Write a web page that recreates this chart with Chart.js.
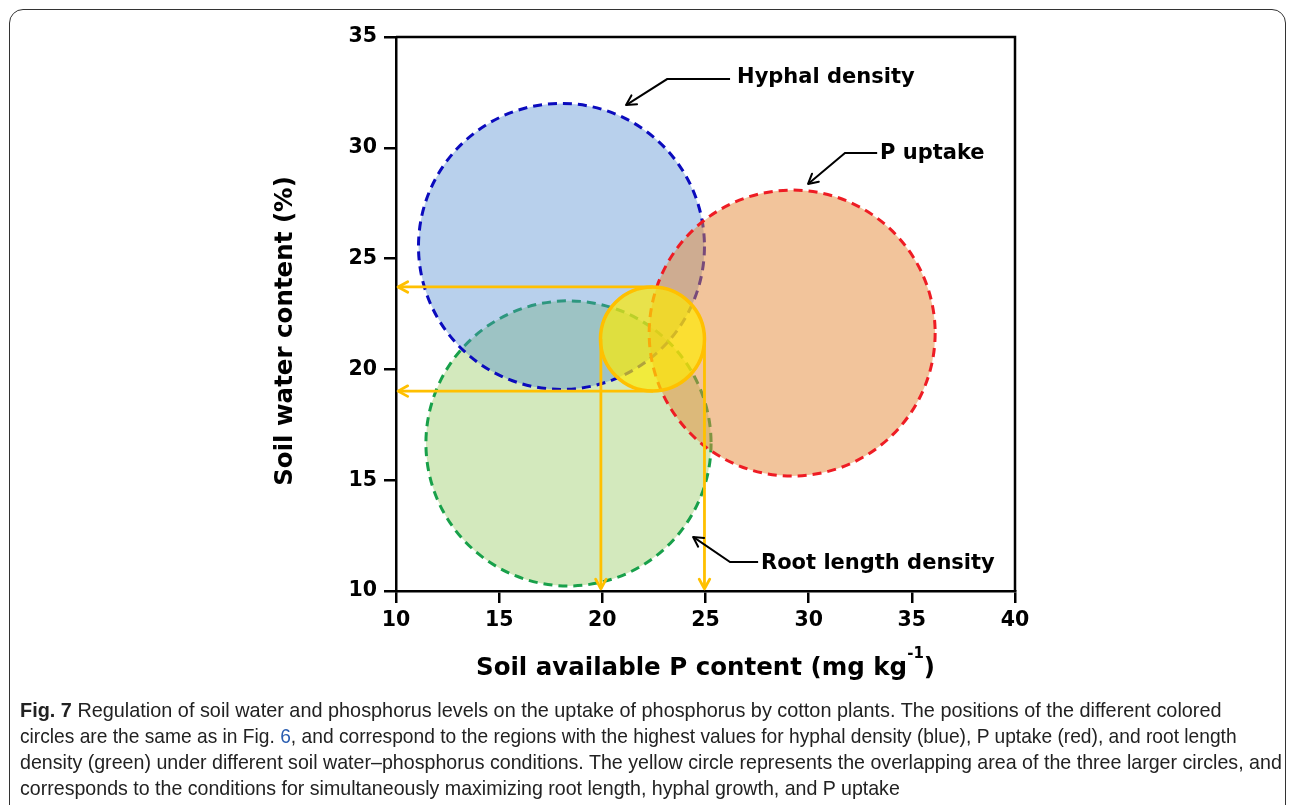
<!DOCTYPE html>
<html><head><meta charset="utf-8">
<script src="https://cdn.jsdelivr.net/npm/chart.js@4/dist/chart.umd.min.js"></script>
<style>
html,body{margin:0;padding:0;background:#fff;}
#wrap{position:relative;width:1292px;height:805px;overflow:hidden;}
#frame{position:absolute;left:9px;top:9px;width:1277px;height:900px;border:1.5px solid #333;border-radius:14px;box-sizing:border-box;}
#box{position:absolute;left:0;top:0;width:1292px;height:805px;}
.cap{position:absolute;left:20px;white-space:nowrap;font-family:"Liberation Sans Narrow","Liberation Sans",Arial,sans-serif;font-size:21px;line-height:24px;color:#222;transform-origin:0 50%;}
.cap b{font-weight:bold;}
.cap .lnk{color:#2a5db0;}
</style></head>
<body>
<div id="wrap">
<div id="frame"></div>
<div id="box"><canvas id="cv"></canvas></div>
<div class="cap" data-w="1202" style="top:698px"><b>Fig. 7</b> Regulation of soil water and phosphorus levels on the uptake of phosphorus by cotton plants. The positions of the different colored</div>
<div class="cap" data-w="1217" style="top:724px">circles are the same as in Fig. <span class="lnk">6</span>, and correspond to the regions with the highest values for hyphal density (blue), P uptake (red), and root length</div>
<div class="cap" data-w="1262" style="top:750px">density (green) under different soil water–phosphorus conditions. The yellow circle represents the overlapping area of the three larger circles, and</div>
<div class="cap" data-w="880" style="top:776px">corresponds to the conditions for simultaneously maximizing root length, hyphal growth, and P uptake</div>
</div>
<script>
// ---- data ----
const xTicks = [10, 15, 20, 25, 30, 35, 40];
const yTicks = [10, 15, 20, 25, 30, 35];
const circleNames = ['Root length density', 'Hyphal density', 'P uptake', 'Overlap'];
const circleX = [18.36, 18.02, 29.2, 22.43];
const circleY = [16.66, 25.55, 21.64, 21.37];
const circleR = [6.91, 6.93, 6.93, 2.52];   // radius in x-axis units
const guideLevelY = [23.72, 19.02];          // horizontal guides to y axis
const guideStartX = 22.45;
const guideDropX = [19.93, 24.95];           // vertical guides to x axis
const guideDropStartY = 21.37;
const axisEndX = 10.1;
const axisEndY = 10.1;
const labelText = ['Hyphal density', 'P uptake', 'Root length density'];
const labelX = [26.53, 33.46, 27.69];
const labelY = [33.15, 29.72, 11.26];
const leaderStartX = [26.19, 33.32, 27.55];
const leaderBendX = [23.14, 31.76, 26.19];
const leaderY = [33.1, 29.77, 11.31];
const leaderTipX = [21.15, 29.97, 24.40];
const leaderTipY = [31.93, 28.37, 12.44];

// ---- styles ----
const circleFill = ['rgb(211,233,189)', 'rgba(78,138,208,0.4)', 'rgba(229,137,55,0.5)', 'rgba(255,236,0,0.68)'];
const circleStroke = ['#18a04a', '#0b0bbd', '#ee1c24', '#ffc000'];
const circleDash = [[9, 6], [9, 6], [9, 6], []];
const circleLW = [3, 3, 3, 3.5];
const guideColor = '#ffc000';
const boldFont = '"DejaVu Sans", "Liberation Sans", sans-serif';

function arrowHead(ctx, fx, fy, tx, ty, size, color, lw) {
  const a = Math.atan2(ty - fy, tx - fx);
  ctx.save();
  ctx.strokeStyle = color; ctx.lineWidth = lw; ctx.setLineDash([]);
  ctx.lineCap = 'round'; ctx.lineJoin = 'round';
  ctx.beginPath();
  ctx.moveTo(tx - size * Math.cos(a - 0.5), ty - size * Math.sin(a - 0.5));
  ctx.lineTo(tx, ty);
  ctx.lineTo(tx - size * Math.cos(a + 0.5), ty - size * Math.sin(a + 0.5));
  ctx.stroke();
  ctx.restore();
}

const datasets = [];
guideLevelY.forEach(y => datasets.push({
  data: [{x: guideStartX, y: y}, {x: axisEndX, y: y}],
  showLine: true, borderColor: guideColor, borderWidth: 2.8, pointRadius: 0, fill: false
}));
guideDropX.forEach(x => datasets.push({
  data: [{x: x, y: guideDropStartY}, {x: x, y: axisEndY}],
  showLine: true, borderColor: guideColor, borderWidth: 2.8, pointRadius: 0, fill: false
}));

const drawPlugin = {
  id: 'draw',
  beforeDatasetsDraw(chart) {
    const ctx = chart.ctx, xs = chart.scales.x, ys = chart.scales.y;
    ctx.save();
    for (let i = 0; i < circleX.length; i++) {
      const cx = xs.getPixelForValue(circleX[i]);
      const cy = ys.getPixelForValue(circleY[i]);
      const r = xs.getPixelForValue(circleX[i] + circleR[i]) - cx;
      ctx.beginPath();
      ctx.arc(cx, cy, r, 0, Math.PI * 2);
      ctx.fillStyle = circleFill[i];
      ctx.fill();
      ctx.setLineDash(circleDash[i]);
      ctx.lineWidth = circleLW[i];
      ctx.strokeStyle = circleStroke[i];
      ctx.stroke();
    }
    ctx.restore();
  },
  afterDatasetsDraw(chart) {
    const ctx = chart.ctx, xs = chart.scales.x, ys = chart.scales.y;
    guideLevelY.forEach(y => {
      arrowHead(ctx, xs.getPixelForValue(guideStartX), ys.getPixelForValue(y),
        xs.getPixelForValue(axisEndX), ys.getPixelForValue(y), 11, guideColor, 2.8);
    });
    guideDropX.forEach(x => {
      arrowHead(ctx, xs.getPixelForValue(x), ys.getPixelForValue(guideDropStartY),
        xs.getPixelForValue(x), ys.getPixelForValue(axisEndY), 11, guideColor, 2.8);
    });
    const a = chart.chartArea;
    ctx.save();
    ctx.strokeStyle = '#000'; ctx.lineWidth = 2.5;
    ctx.beginPath();
    ctx.moveTo(a.left, a.top); ctx.lineTo(a.right, a.top); ctx.lineTo(a.right, a.bottom);
    ctx.stroke();
    for (let i = 0; i < labelText.length; i++) {
      const sx = xs.getPixelForValue(leaderStartX[i]);
      const bx = xs.getPixelForValue(leaderBendX[i]);
      const ly = ys.getPixelForValue(leaderY[i]);
      const tx = xs.getPixelForValue(leaderTipX[i]);
      const ty = ys.getPixelForValue(leaderTipY[i]);
      ctx.strokeStyle = '#000'; ctx.lineWidth = 2; ctx.setLineDash([]);
      ctx.beginPath(); ctx.moveTo(sx, ly); ctx.lineTo(bx, ly); ctx.lineTo(tx, ty); ctx.stroke();
      arrowHead(ctx, bx, ly, tx, ty, 11, '#000', 2);
      ctx.fillStyle = '#000';
      ctx.font = 'bold 21px ' + boldFont;
      ctx.textAlign = 'left'; ctx.textBaseline = 'middle';
      ctx.fillText(labelText[i], xs.getPixelForValue(labelX[i]), ys.getPixelForValue(labelY[i]));
    }
    ctx.restore();
  },
  afterDraw(chart) {
    const ctx = chart.ctx, a = chart.chartArea;
    ctx.save();
    ctx.fillStyle = '#000';
    const main = 'Soil available P content (mg kg', sup = '-1', tail = ')';
    const big = 'bold 24.5px ' + boldFont, small = 'bold 15px ' + boldFont;
    ctx.font = big;
    const w1 = ctx.measureText(main).width, w3 = ctx.measureText(tail).width;
    ctx.font = small;
    const w2 = ctx.measureText(sup).width;
    const x0 = (a.left + a.right) / 2 - (w1 + w2 + w3) / 2;
    const ty = a.bottom + 78;
    ctx.textBaseline = 'middle'; ctx.textAlign = 'left';
    ctx.font = big;
    ctx.fillText(main, x0, ty);
    ctx.font = small;
    ctx.fillText(sup, x0 + w1, ty - 15);
    ctx.font = big;
    ctx.fillText(tail, x0 + w1 + w2, ty);
    ctx.translate(a.left - 110, (a.top + a.bottom) / 2 + 17);
    ctx.rotate(-Math.PI / 2);
    ctx.textAlign = 'center';
    ctx.fillText('Soil water content (%)', 0, 0);
    ctx.restore();
  }
};

new Chart(document.getElementById('cv'), {
  type: 'scatter',
  data: { datasets: datasets },
  options: {
    responsive: true, maintainAspectRatio: false, animation: false,
    layout: { padding: { left: 0, top: 37, right: 277, bottom: 154 } },
    plugins: { legend: { display: false }, tooltip: { enabled: false } },
    scales: {
      x: {
        type: 'linear', min: xTicks[0], max: xTicks[xTicks.length - 1],
        afterBuildTicks: s => { s.ticks = xTicks.map(v => ({value: v})); },
        afterFit: s => { s.height = 60; },
        grid: { drawOnChartArea: false, drawTicks: true, tickLength: 12, color: '#000', lineWidth: 2.5 },
        border: { display: true, color: '#000', width: 2.5 },
        ticks: { color: '#000', padding: 5, font: { family: boldFont, size: 20.5, weight: 'bold' } }
      },
      y: {
        type: 'linear', min: yTicks[0], max: yTicks[yTicks.length - 1],
        afterBuildTicks: s => { s.ticks = yTicks.map(v => ({value: v})); },
        afterFit: s => { s.width = 396; },
        grid: { drawOnChartArea: false, drawTicks: true, tickLength: 12, color: '#000', lineWidth: 2.5 },
        border: { display: true, color: '#000', width: 2.5 },
        ticks: { color: '#000', padding: 7, font: { family: boldFont, size: 20.5, weight: 'bold' } }
      }
    }
  },
  plugins: [drawPlugin]
});

document.querySelectorAll('.cap').forEach(el => {
  const w = el.scrollWidth;
  const target = parseFloat(el.dataset.w);
  el.style.transform = 'scaleX(' + (target / w) + ')';
});
</script>
</body></html>
